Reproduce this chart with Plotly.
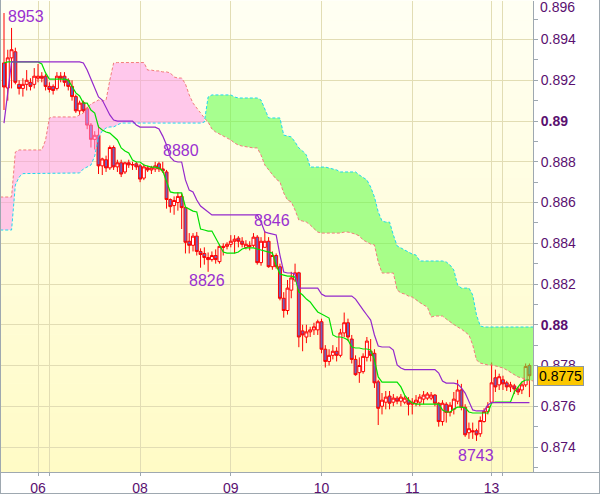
import plotly.graph_objects as go

# ---------------- data (prices in pips: value / 10000 = price) ----------------
open_p = [
    8928.5, 8916.2, 8931, 8934, 8918, 8916, 8918, 8919, 8918, 8921,
    8922, 8922, 8917, 8917, 8916, 8922, 8922, 8920, 8917, 8912,
    8905, 8909, 8906, 8898, 8891, 8893, 8878, 8881, 8877, 8887,
    8877.5, 8879.5, 8875, 8879.5, 8878.5, 8879, 8878, 8872, 8877, 8876,
    8876.5, 8879, 8876.5, 8875, 8861.5, 8858.5, 8860, 8863, 8857.5, 8841,
    8839, 8843.5, 8836, 8835, 8833, 8832, 8834, 8831, 8838.5, 8838.5,
    8839.5, 8841, 8842.5, 8841, 8838, 8839, 8839, 8843, 8830.5, 8838,
    8841, 8828.5, 8834, 8828.5, 8813, 8807, 8817, 8822, 8825.5, 8797,
    8794, 8796.5, 8797.5, 8797.5, 8801.5, 8788, 8782, 8785, 8787, 8785,
    8796, 8801, 8793, 8783, 8776.5, 8777, 8784, 8787, 8786, 8772,
    8760, 8762, 8765, 8762, 8764, 8762.5, 8762, 8763, 8761, 8761.5,
    8762, 8763.5, 8764, 8764, 8765.5, 8761.5, 8752.5, 8761, 8757, 8758.5,
    8762.5, 8768, 8759.5, 8747, 8748, 8748, 8746.5, 8752.5, 8757.5, 8762,
    8774, 8770.5, 8773, 8771.5, 8769.5, 8770, 8768.5, 8768, 8770.5, 8780,
]
high_p = [
    8953, 8935, 8945.7, 8936, 8920, 8921, 8925, 8921, 8926, 8928,
    8924, 8923, 8919, 8918, 8924, 8924, 8924, 8921, 8920, 8913,
    8910, 8910, 8907, 8899, 8895, 8898, 8882, 8883, 8888, 8888,
    8881, 8881, 8880, 8881, 8880, 8880, 8879, 8879, 8878, 8878,
    8880, 8880, 8880, 8876, 8862, 8863, 8865, 8864.5, 8858, 8845,
    8845, 8845.5, 8837.5, 8838, 8835.5, 8836, 8837, 8839.5, 8840, 8840.5,
    8844, 8844, 8843.5, 8843, 8841.5, 8841, 8845, 8844, 8843, 8846,
    8843, 8836, 8835, 8830, 8816, 8822, 8826, 8830, 8826, 8800,
    8800, 8799, 8801, 8802.5, 8803, 8790, 8788, 8790, 8789, 8798,
    8806, 8803, 8795, 8785, 8784, 8786, 8794, 8793, 8788, 8773,
    8766.5, 8767.5, 8767.5, 8766, 8765, 8766, 8765, 8764.5, 8764, 8765.5,
    8766, 8767.5, 8767, 8767, 8766, 8762, 8763, 8762, 8762, 8767,
    8773, 8771, 8761, 8752, 8752, 8749, 8755, 8759, 8762, 8781.5,
    8778, 8776, 8775, 8772.5, 8772, 8771, 8769.5, 8772, 8781, 8781,
]
low_p = [
    8905.4, 8910, 8916, 8918, 8913, 8912, 8915, 8915, 8916, 8919,
    8919, 8915, 8914, 8913, 8915, 8919, 8917, 8915, 8910, 8904,
    8903, 8904, 8896, 8887, 8886, 8874, 8873.5, 8875, 8876, 8876,
    8875, 8872.5, 8874, 8877, 8876, 8876, 8870, 8871, 8875, 8874,
    8875, 8875, 8874.5, 8857, 8855, 8854, 8856, 8847, 8835, 8835,
    8836, 8834, 8828, 8829.5, 8826, 8831, 8830, 8830, 8834, 8837,
    8838, 8835, 8838, 8838, 8837, 8836.5, 8838, 8829.5, 8829, 8838,
    8828, 8827, 8827.5, 8812, 8803.5, 8805, 8813, 8821, 8789, 8787,
    8791, 8794, 8795, 8795, 8786, 8779, 8780, 8783, 8782, 8784,
    8794, 8792, 8781, 8775, 8771.5, 8776, 8782, 8782, 8769, 8750.8,
    8756, 8758.5, 8758.5, 8760, 8761, 8760, 8761, 8755.5, 8756, 8760,
    8760, 8761, 8763, 8763, 8760, 8750, 8750.5, 8752, 8755, 8756,
    8761, 8758, 8745, 8744, 8744, 8743, 8745, 8752, 8756, 8761.5,
    8767, 8768, 8768, 8767.5, 8767, 8766, 8765.5, 8766, 8769.5, 8764.5,
]
close_p = [
    8916.7, 8931, 8935, 8919, 8916, 8918, 8920, 8917, 8922, 8922,
    8921, 8917, 8915.5, 8915, 8922, 8921, 8919, 8917, 8912, 8905,
    8908.8, 8905, 8898, 8891, 8893, 8878, 8881.4, 8877, 8887, 8877.5,
    8879.5, 8874, 8879.5, 8878.5, 8878.6, 8877.5, 8871.5, 8877.5, 8876, 8877,
    8878, 8876.5, 8875.5, 8861.5, 8858, 8861, 8863, 8857.5, 8840.5, 8839,
    8843.5, 8836, 8834.5, 8833, 8832, 8834, 8832, 8838.5, 8838, 8839.5,
    8841, 8842, 8841, 8839.5, 8839.5, 8838.5, 8843, 8830.5, 8841, 8841,
    8828.5, 8834, 8828.5, 8813, 8807, 8818, 8823, 8825.5, 8794, 8795,
    8796.5, 8797.5, 8799, 8801.5, 8788, 8782, 8785, 8787, 8785, 8796,
    8801, 8794, 8783, 8775.5, 8780, 8784.5, 8792, 8785, 8771.5, 8759,
    8763, 8764.5, 8761.5, 8764, 8762.5, 8764.5, 8764, 8761, 8762, 8763,
    8764.5, 8765.5, 8766, 8765.5, 8761.5, 8752.5, 8761.5, 8757, 8760.5, 8763.5,
    8768, 8759.5, 8746, 8749, 8747.5, 8746, 8753, 8757.5, 8760, 8771.5,
    8769.5, 8774.5, 8771, 8769.5, 8770.5, 8768.5, 8767, 8770.5, 8779.5, 8775,
]
tenkan_p = [
    8928.5, 8929.0, 8929.0, 8929.0, 8929.0, 8929.0, 8929.0, 8929.0, 8929.0, 8929.0,
    8928.0, 8923.6, 8920.6, 8920.6, 8920.6, 8920.6, 8920.6, 8920.1, 8916.7, 8913.8,
    8912.3, 8908.8, 8908.8, 8905.4, 8903.9, 8897.1, 8895.6, 8894.6, 8894.1, 8892.2,
    8890.7, 8886.8, 8885.3, 8884.3, 8880.9, 8879.9, 8879.9, 8878.4, 8877.9, 8877.4,
    8877.4, 8876.9, 8875.5, 8870.1, 8865.2, 8864.7, 8864.7, 8864.7, 8857.8, 8856.8,
    8855.8, 8855.4, 8847.0, 8846.5, 8846.0, 8846.0, 8842.6, 8838.7, 8835.7, 8835.2,
    8835.2, 8835.2, 8835.7, 8837.2, 8837.7, 8837.7, 8837.7, 8837.2, 8836.7, 8836.2,
    8835.7, 8835.2, 8829.3, 8824.9, 8824.4, 8823.9, 8823.9, 8823.4, 8816.1, 8814.6,
    8812.6, 8811.2, 8808.7, 8806.3, 8805.3, 8804.3, 8803.3, 8795.0, 8794.0, 8794.0,
    8793.5, 8792.5, 8789.1, 8788.6, 8788.6, 8788.1, 8788.1, 8787.6, 8782.7, 8774.4,
    8771.9, 8771.9, 8771.9, 8771.9, 8771.9, 8769.5, 8765.5, 8763.1, 8761.6, 8761.1,
    8761.1, 8761.1, 8761.1, 8761.1, 8761.1, 8761.1, 8758.2, 8757.2, 8757.2, 8758.7,
    8759.6, 8759.6, 8759.2, 8757.2, 8756.7, 8756.7, 8756.7, 8756.7, 8756.7, 8761.6,
    8762.1, 8762.1, 8762.1, 8762.1, 8762.1, 8767.0, 8769.5, 8771.9, 8772.9, 8772.9,
]
kijun_p = [
    8899.0, 8913.0, 8929.0, 8929.0, 8929.0, 8929.0, 8929.0, 8929.0, 8929.0, 8929.0,
    8929.0, 8929.0, 8929.0, 8929.0, 8929.0, 8929.0, 8929.0, 8929.0, 8929.0, 8929.0,
    8929.0, 8928.5, 8925.0, 8920.6, 8916.2, 8911.8, 8910.3, 8906.9, 8903.0, 8900.5,
    8900.0, 8900.0, 8900.0, 8900.0, 8900.0, 8898.1, 8897.0, 8897.0, 8897.0, 8897.0,
    8897.0, 8896.1, 8892.6, 8888.2, 8882.3, 8880.4, 8879.9, 8879.9, 8871.1, 8866.1,
    8865.2, 8861.2, 8858.3, 8856.8, 8855.4, 8853.9, 8853.9, 8853.9, 8853.9, 8853.9,
    8853.9, 8853.9, 8853.9, 8853.9, 8853.9, 8853.9, 8853.9, 8853.9, 8850.4, 8845.5,
    8845.0, 8844.5, 8844.1, 8834.2, 8825.9, 8825.4, 8825.4, 8824.9, 8818.0, 8818.0,
    8818.0, 8818.0, 8818.0, 8818.0, 8815.1, 8814.1, 8814.1, 8814.1, 8814.1, 8814.1,
    8814.1, 8814.1, 8814.1, 8812.6, 8809.7, 8807.3, 8804.8, 8802.3, 8795.0, 8789.6,
    8789.1, 8789.1, 8789.1, 8787.6, 8780.3, 8778.8, 8778.0, 8778.0, 8778.0, 8778.0,
    8778.0, 8778.0, 8778.0, 8778.0, 8778.0, 8776.3, 8772.4, 8771.4, 8771.4, 8771.4,
    8770.9, 8769.0, 8766.5, 8762.1, 8758.2, 8757.7, 8757.7, 8757.7, 8760.6, 8761.8,
    8761.8, 8761.8, 8761.8, 8761.8, 8761.8, 8761.8, 8761.8, 8761.8, 8761.8, 8761.8,
]
# leading spans run from one bar before the first candle to one bar after the last
span_a_p = [
    8846.5,
    8846.5, 8846.5, 8846.5, 8868.6, 8872.5, 8874.2, 8874.2, 8874.2, 8874.2, 8874.2,
    8874.2, 8874.2, 8874.2, 8874.2, 8874.2, 8874.2, 8874.2, 8874.2, 8874.2, 8874.2,
    8874.5, 8876.5, 8877.4, 8878.4, 8882.8, 8892.2, 8895.1, 8896.6, 8897.1, 8897.1,
    8898.1, 8899.0, 8899.0, 8899.0, 8899.0, 8899.0, 8899.0, 8899.0, 8899.0, 8899.0,
    8899.0, 8899.0, 8899.0, 8899.0, 8899.0, 8899.0, 8899.0, 8899.0, 8899.0, 8899.0,
    8899.0, 8899.0, 8899.0, 8899.5, 8911.8, 8912.8, 8912.8, 8912.8, 8912.8, 8912.8,
    8912.8, 8911.8, 8911.3, 8911.3, 8911.3, 8911.3, 8911.3, 8911.3, 8910.3, 8905.4,
    8901.5, 8901.5, 8901.5, 8901.5, 8893.1, 8892.6, 8892.2, 8889.7, 8886.8, 8885.3,
    8883.3, 8877.4, 8877.4, 8877.4, 8877.4, 8877.4, 8876.9, 8876.5, 8876.0, 8875.0,
    8875.0, 8875.0, 8875.0, 8875.0, 8873.5, 8872.5, 8871.1, 8867.6, 8862.7, 8855.4,
    8850.9, 8850.4, 8850.4, 8844.1, 8838.7, 8837.7, 8836.7, 8835.7, 8834.7, 8834.2,
    8831.3, 8831.3, 8831.3, 8831.3, 8831.3, 8831.3, 8831.3, 8830.8, 8829.3, 8826.9,
    8819.5, 8818.0, 8818.0, 8818.0, 8814.6, 8804.8, 8799.4, 8798.9, 8798.9, 8798.9,
    8798.9, 8798.9, 8798.9, 8798.9, 8798.9, 8798.9, 8798.9, 8798.9, 8798.9, 8798.9,
    8798.9,
]
span_b_p = [
    8862.7,
    8862.7, 8862.7, 8862.7, 8884.8, 8885.8, 8885.8, 8885.8, 8885.8, 8885.8, 8885.8,
    8885.8, 8890.7, 8901.5, 8902.0, 8902.0, 8902.0, 8902.0, 8902.0, 8902.0, 8902.0,
    8903.0, 8903.9, 8906.4, 8908.4, 8909.3, 8910.3, 8909.8, 8910.3, 8920.1, 8928.5,
    8928.7, 8928.7, 8928.7, 8928.7, 8928.7, 8928.7, 8928.7, 8928.7, 8925.0, 8925.0,
    8924.6, 8924.6, 8924.1, 8924.1, 8923.6, 8921.6, 8921.1, 8921.1, 8918.2, 8912.8,
    8908.8, 8906.4, 8903.4, 8901.5, 8899.5, 8896.1, 8894.6, 8893.6, 8892.6, 8891.9,
    8890.7, 8889.2, 8888.2, 8887.7, 8887.3, 8887.0, 8886.8, 8886.8, 8883.3, 8878.4,
    8876.0, 8873.5, 8871.5, 8870.1, 8864.7, 8861.2, 8860.3, 8856.3, 8851.4, 8850.9,
    8850.4, 8849.0, 8847.0, 8845.5, 8845.0, 8845.0, 8845.0, 8845.0, 8845.0, 8845.0,
    8845.5, 8845.5, 8845.0, 8844.5, 8843.6, 8841.6, 8840.6, 8839.6, 8839.2, 8830.8,
    8825.4, 8825.4, 8825.4, 8825.4, 8817.1, 8815.6, 8815.1, 8814.1, 8813.6, 8812.2,
    8810.7, 8809.7, 8808.7, 8803.8, 8804.3, 8804.3, 8804.3, 8802.8, 8801.4, 8799.9,
    8798.9, 8797.9, 8796.5, 8795.0, 8790.1, 8782.7, 8781.2, 8780.8, 8780.3, 8780.3,
    8779.8, 8779.3, 8778.8, 8777.8, 8776.8, 8775.4, 8774.4, 8773.9, 8773.4, 8772.9,
    8772.4,
]
# day boundaries (bar index) and their labels
day_ticks = [9, 12, 36, 60, 84, 108, 129, 132]
day_labels = ["06", "", "08", "09", "10", "11", "13", ""]
# labelled extremes: bar index, which price
extreme_idx = [0, 42, 69, 54, 125]
extreme_kind = ["high", "high", "high", "low", "low"]
top_tick_label = "0.896"

# ---------------- styling / layout constants ----------------
W, H = 600, 495
ML, MR, MT, MB = 1, 67, 1, 23
PW, PH = W - ML - MR, H - MT - MB
FONT = "Liberation Sans, Arial, sans-serif"
LABEL_CLR = "#5a1070"
GRID_CLR = "#e2ddb4"
BORDER_CLR = "#9ea8b0"


def px(xpix):
    return (xpix - ML) / PW


def py(ypix):
    return (H - MB - ypix) / PH


def sc(v):
    return [x / 10000.0 for x in v]


n = len(close_p)
xi = list(range(n))
xs_span = list(range(-1, len(span_a_p) - 1))
A = sc(span_a_p)
B = sc(span_b_p)

fig = go.Figure()


# cloud polygons split at crossings
def cloud_polys(xs, a, b):
    polys = []
    cx, ca, cb = [xs[0]], [a[0]], [b[0]]
    sign = a[0] >= b[0]
    for i in range(1, len(xs)):
        s = a[i] >= b[i]
        if s != sign:
            d0 = a[i - 1] - b[i - 1]
            d1 = a[i] - b[i]
            t = d0 / (d0 - d1)
            xc = xs[i - 1] + t * (xs[i] - xs[i - 1])
            yc = a[i - 1] + t * (a[i] - a[i - 1])
            cx.append(xc); ca.append(yc); cb.append(yc)
            polys.append((sign, cx, ca, cb))
            cx, ca, cb = [xc], [yc], [yc]
            sign = s
        cx.append(xs[i]); ca.append(a[i]); cb.append(b[i])
    polys.append((sign, cx, ca, cb))
    return polys


for bull, cx, ca, cb in cloud_polys(xs_span, A, B):
    fig.add_trace(go.Scatter(
        x=cx + cx[::-1], y=ca + cb[::-1], fill="toself", mode="lines",
        line=dict(width=0),
        fillcolor="rgba(95,255,70,0.55)" if bull else "rgba(255,150,235,0.52)",
        hoverinfo="skip", showlegend=False))

fig.add_trace(go.Scatter(x=xs_span, y=B, mode="lines",
                         line=dict(color="#f27c7c", width=1, dash="3px,2px"),
                         hoverinfo="skip", showlegend=False))
fig.add_trace(go.Scatter(x=xs_span, y=A, mode="lines",
                         line=dict(color="#1ed8f0", width=1, dash="3px,2px"),
                         hoverinfo="skip", showlegend=False))

fig.add_trace(go.Candlestick(
    x=xi, open=sc(open_p), high=sc(high_p), low=sc(low_p), close=sc(close_p),
    increasing=dict(line=dict(color="#ff0000", width=1), fillcolor="#ffffff"),
    decreasing=dict(line=dict(color="#ff0000", width=1), fillcolor="#7060b8"),
    whiskerwidth=0, hoverinfo="skip", showlegend=False))

fig.add_trace(go.Scatter(x=xi, y=sc(tenkan_p), mode="lines",
                         line=dict(color="#00e000", width=1.2),
                         hoverinfo="skip", showlegend=False))
fig.add_trace(go.Scatter(x=xi, y=sc(kijun_p), mode="lines",
                         line=dict(color="#9428cc", width=1.2),
                         hoverinfo="skip", showlegend=False))

# background gradient (plot area)
shapes = []
nb = 48
top_c = (255, 255, 243)
bot_c = (255, 251, 198)
for k in range(nb):
    t = k / (nb - 1)
    c = tuple(round(bot_c[j] + (top_c[j] - bot_c[j]) * t) for j in range(3))
    shapes.append(dict(type="rect", xref="paper", yref="paper",
                       x0=0, x1=1, y0=k / nb, y1=(k + 1) / nb + 0.001,
                       fillcolor="rgb(%d,%d,%d)" % c, line=dict(width=0),
                       layer="below"))
# frame lines
shapes += [
    dict(type="line", xref="paper", yref="paper", x0=px(0.5), x1=px(0.5),
         y0=py(493.5), y1=py(0), line=dict(color=BORDER_CLR, width=1)),
    dict(type="line", xref="paper", yref="paper", x0=px(0), x1=px(600),
         y0=py(472.5), y1=py(472.5), line=dict(color=BORDER_CLR, width=1)),
    dict(type="line", xref="paper", yref="paper", x0=px(0), x1=px(600),
         y0=py(493.5), y1=py(493.5), line=dict(color=BORDER_CLR, width=1)),
    dict(type="line", xref="paper", yref="paper", x0=px(599.5), x1=px(599.5),
         y0=py(493.5), y1=py(0), line=dict(color=BORDER_CLR, width=1)),
]

annotations = []
shifts = [(22, -3), (18, 11), (7, 11), (-1, -9), (-1, -15)]
for idx, kind, (dx, dy) in zip(extreme_idx, extreme_kind, shifts):
    val = high_p[idx] if kind == "high" else low_p[idx]
    annotations.append(dict(
        x=idx, y=val / 10000.0, xref="x", yref="y", text=str(int(round(val))),
        showarrow=False, xanchor="center", yanchor="middle",
        xshift=dx, yshift=dy,
        font=dict(family=FONT, size=16, color="#9a30d0")))
# top tick label (clamped into view like the original)
annotations.append(dict(
    x=px(538), y=py(7), xref="paper", yref="paper", text=top_tick_label,
    showarrow=False, xanchor="left", yanchor="middle",
    font=dict(family=FONT, size=14, color=LABEL_CLR)))
annotations.append(dict(
    x=px(537), y=close_p[-1] / 10000.0, xref="paper", yref="y",
    text="%.4f" % (close_p[-1] / 10000.0), showarrow=False,
    xanchor="left", yanchor="middle", bgcolor="#fcc800",
    bordercolor="#8a96a4", borderwidth=1, borderpad=1,
    font=dict(family=FONT, size=14, color="#000000")))

ymin = (8959.4 - 0.4908 * (H - MB)) / 10000.0
ymax = (8959.4 - 0.4908 * MT) / 10000.0
xmin = (ML - 4) / 3.78 - 1e-9
xmax = (W - MR - 4) / 3.78

fig.update_layout(
    width=W, height=H, margin=dict(l=ML, r=MR, t=MT, b=MB, pad=0),
    paper_bgcolor="#ffffff", plot_bgcolor="#fffde0",
    showlegend=False, hovermode=False,
    boxgap=0.22, boxgroupgap=0,
    shapes=shapes, annotations=annotations,
    font=dict(family=FONT, size=14, color=LABEL_CLR),
    xaxis=dict(range=[xmin, xmax], tickmode="array", tickvals=day_ticks,
               ticktext=day_labels, showgrid=True, gridcolor=GRID_CLR,
               gridwidth=1, zeroline=False, ticks="outside", ticklen=3,
               tickcolor=BORDER_CLR, showline=False, automargin=False,
               tickfont=dict(family=FONT, size=14, color=LABEL_CLR),
               rangeslider=dict(visible=False), fixedrange=True),
    yaxis=dict(range=[ymin, ymax], side="right", tickmode="linear",
               tick0=0.874, dtick=0.002, showgrid=True, gridcolor=GRID_CLR,
               gridwidth=1, zeroline=False, ticks="outside", ticklen=4,
               tickcolor=BORDER_CLR, showline=True, linecolor=BORDER_CLR,
               linewidth=1, automargin=False,
               labelalias={"0.89": "<b>0.89</b>", "0.88": "<b>0.88</b>"},
               minor=dict(tickmode="linear", tick0=0.873, dtick=0.001,
                          ticks="outside", ticklen=4, tickcolor=BORDER_CLR,
                          showgrid=False),
               tickfont=dict(family=FONT, size=14, color=LABEL_CLR),
               fixedrange=True),
)

fig.write_html(
    "out.html",
    config={"displayModeBar": False},
    post_script="document.body.style.margin='0';document.body.style.overflow='hidden';",
)
